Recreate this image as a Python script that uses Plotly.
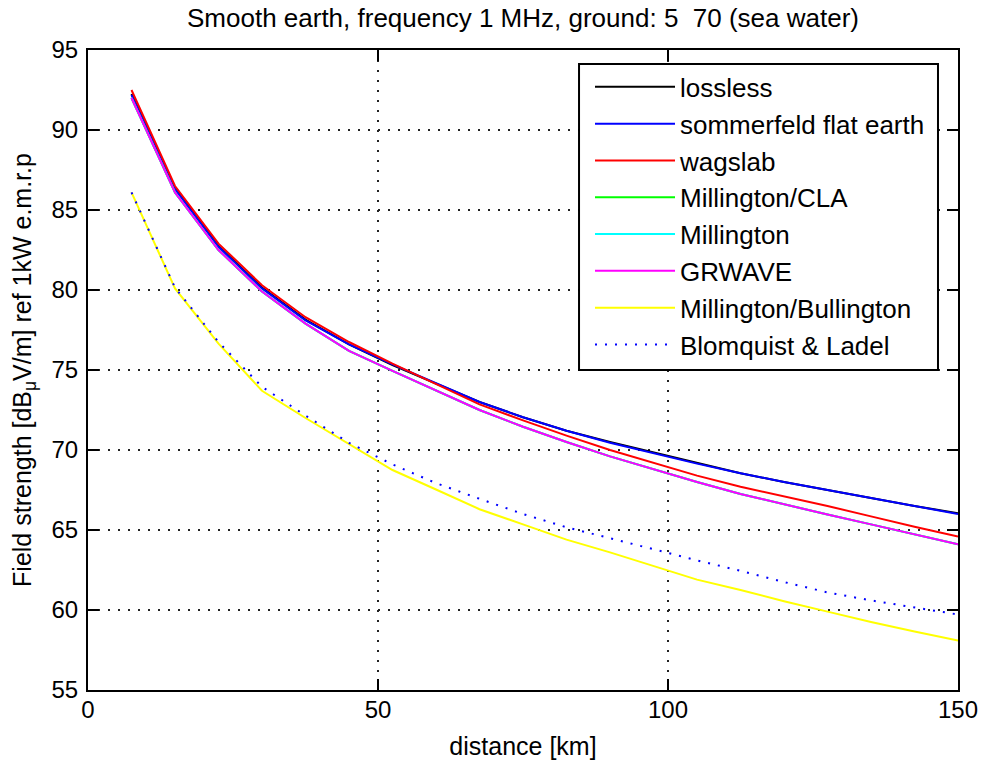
import plotly.graph_objects as go

# Distance grid (km) shared by every propagation model
distance_km = [7.5, 15, 22.5, 30, 37.5, 45, 52.5, 60, 67.5, 75,
               82.5, 90, 97.5, 105, 112.5, 120, 127.5, 135, 142.5, 150]

# Field strength, dBuV/m ref 1 kW e.m.r.p.
lossless = [92.25, 86.35, 82.75, 80.15, 78.15, 76.6, 75.3, 74.15, 73.0, 72.05,
            71.2, 70.5, 69.85, 69.2, 68.55, 68.0, 67.5, 67.0, 66.5, 66.05]
sommerfeld = [92.2, 86.3, 82.7, 80.1, 78.1, 76.6, 75.35, 74.2, 73.0, 72.05,
              71.2, 70.45, 69.8, 69.15, 68.55, 68.0, 67.5, 67.0, 66.5, 66.0]
wagslab = [92.5, 86.5, 82.9, 80.3, 78.3, 76.75, 75.4, 74.1, 72.85, 71.85,
           70.9, 70.0, 69.2, 68.4, 67.7, 67.1, 66.5, 65.85, 65.2, 64.6]
millington_cla = [92.0, 86.1, 82.5, 79.9, 77.9, 76.2, 74.95, 73.75, 72.5, 71.45,
                  70.5, 69.6, 68.8, 68.0, 67.25, 66.6, 65.97, 65.35, 64.72, 64.1]
millington = [92.0, 86.1, 82.5, 79.9, 77.9, 76.2, 74.95, 73.75, 72.5, 71.45,
              70.5, 69.6, 68.8, 68.0, 67.25, 66.6, 65.97, 65.35, 64.72, 64.1]
grwave = [92.0, 86.1, 82.5, 79.9, 77.9, 76.2, 74.95, 73.75, 72.5, 71.45,
          70.5, 69.6, 68.8, 68.0, 67.25, 66.6, 65.97, 65.35, 64.72, 64.1]
millington_bullington = [86.1, 80.1, 76.65, 73.7, 72.0, 70.35, 68.75, 67.53, 66.3, 65.35,
                         64.4, 63.6, 62.75, 61.9, 61.25, 60.55, 59.9, 59.25, 58.65, 58.1]
blomquist_ladel = [86.1, 80.15, 76.75, 73.95, 72.15, 70.45, 69.1, 67.93, 66.95, 66.0,
                   65.17, 64.5, 63.8, 63.1, 62.45, 61.75, 61.1, 60.6, 60.15, 59.72]

series = [
    ("lossless", lossless, "#000000", "solid"),
    ("sommerfeld flat earth", sommerfeld, "#0000ff", "solid"),
    ("wagslab", wagslab, "#ff0000", "solid"),
    ("Millington/CLA", millington_cla, "#00ff00", "solid"),
    ("Millington", millington, "#00ffff", "solid"),
    ("GRWAVE", grwave, "#ff00ff", "solid"),
    ("Millington/Bullington", millington_bullington, "#ffff00", "solid"),
    ("Blomquist & Ladel", blomquist_ladel, "#0000ff", "2px,8px"),
]

FONT = "Liberation Sans, Arial, sans-serif"

fig = go.Figure()
for i, (name, values, color, dash) in enumerate(series):
    fig.add_trace(go.Scatter(
        x=distance_km, y=values, name=name, mode="lines",
        line=dict(color=color, width=2, dash=dash),
        legendgroup=f"g{i}",
    ))

axis_common = dict(
    showline=True, linecolor="black", linewidth=2, mirror="ticks",
    ticks="inside", ticklen=11, tickwidth=2, tickcolor="black",
    showgrid=True, gridcolor="#222222", gridwidth=1.5, griddash="2px,8px",
    zeroline=False, tickfont=dict(size=24, color="black", family=FONT),
    automargin=False,
)

# Framed legend box (drawn as a shape so the entries can sit inset from the frame)
legend_box = dict(type="rect", xref="paper", yref="paper",
                  x0=0.5644, x1=0.977, y0=0.5, y1=0.978,
                  line=dict(color="black", width=2), fillcolor="white", layer="above")

fig.update_layout(
    width=981, height=762,
    margin=dict(l=88, r=23, t=50, b=72, autoexpand=False),
    paper_bgcolor="white", plot_bgcolor="white",
    font=dict(family=FONT, color="black"),
    title=dict(
        text="Smooth earth, frequency 1 MHz, ground: 5\u00a0 70 (sea water)",
        x=0.5, xref="paper", y=1 - 18 / 762, yref="container",
        xanchor="center", yanchor="middle",
        font=dict(size=26, color="black", family=FONT),
    ),
    xaxis=dict(
        range=[0, 150], tickvals=[0, 50, 100, 150],
        ticklabelstandoff=-3,
        title=dict(text="distance [km]", font=dict(size=25, family=FONT), standoff=16),
        **axis_common,
    ),
    yaxis=dict(
        range=[55, 95], tickvals=[55, 60, 65, 70, 75, 80, 85, 90, 95],
        ticklabelstandoff=3,
        title=dict(text="Field strength [dB<sub>\u03bc</sub>V/m] ref 1kW e.m.r.p",
                   font=dict(size=25, family=FONT), standoff=13),
        **axis_common,
    ),
    shapes=[legend_box],
    legend=dict(
        x=(590 - 88) / 870, y=0.979, xanchor="left", yanchor="top",
        bgcolor="rgba(0,0,0,0)", borderwidth=0,
        font=dict(size=26, color="black", family=FONT),
        itemwidth=80, tracegroupgap=0,
    ),
    showlegend=True,
)

fig.write_html("out.html")
